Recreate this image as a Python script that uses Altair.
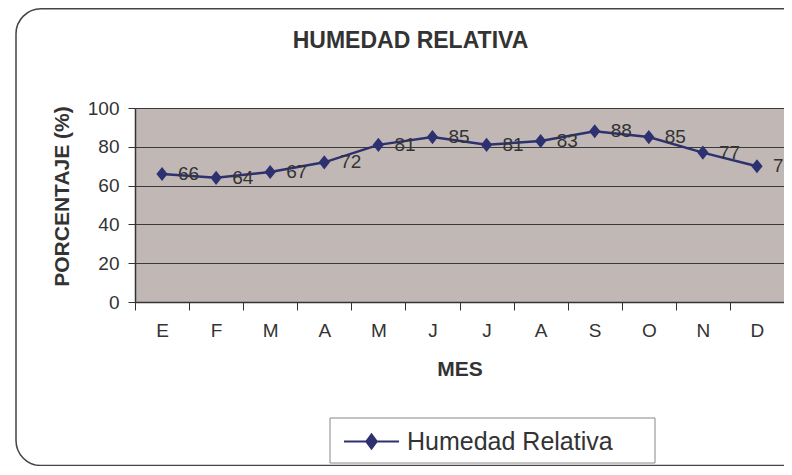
import altair as alt
import pandas as pd

months = ["E", "F", "M", "A", "M", "J", "J", "A", "S", "O", "N", "D"]
values = [66, 64, 67, 72, 81, 85, 81, 83, 88, 85, 77, 70]
series_name = "Humedad Relativa"
y_ticks = [0, 20, 40, 60, 80, 100]

order = [f"{i:02d}" for i in range(len(months))]
df = pd.DataFrame({"k": order, "mes": months, "valor": values, "serie": [series_name] * len(months)})
label_expr = "{" + ",".join(f"'{k}':'{m}'" for k, m in zip(order, months)) + "}[datum.value]"

NAVY = "#2D3170"
TXT = "#333333"
FONT = "Liberation Sans"
W, H = 649, 194
DIAMOND = "M0,-1L0.8,0L0,1L-0.8,0Z"
LEG_SYM = "M-1,0H1M0,-0.26L0.19,0L0,0.26L-0.19,0Z"

x = alt.X("k:N", sort=order, title="MES",
          scale=alt.Scale(paddingInner=0, paddingOuter=0),
          axis=alt.Axis(labelExpr=label_expr, labelAngle=0, tickBand="extent",
                        labelFontSize=19, labelColor=TXT, labelPadding=11,
                        tickSize=8, tickColor=TXT, domainColor=TXT, domainWidth=1.5,
                        titleFontSize=21, titleFontWeight="bold", titleColor=TXT,
                        titlePadding=18, grid=False))
y = alt.Y("valor:Q", title="PORCENTAJE  (%)",
          scale=alt.Scale(domain=[0, 100], nice=False),
          axis=alt.Axis(values=y_ticks, labelFontSize=19, labelColor=TXT, labelPadding=9,
                        tickSize=7, tickColor=TXT, domainColor=TXT, domainWidth=1.5,
                        grid=True, gridColor="#3a3a3a", gridWidth=1,
                        titleFontSize=21, titleFontWeight="bold", titleColor=TXT,
                        titlePadding=15, titleY=88))

frame = alt.Chart(alt.Data(values=[{}])).mark_rect(
    fill=None, filled=False, stroke="#444444", strokeWidth=1.5, cornerRadius=25
).encode(x=alt.value(-119), x2=alt.value(720), y=alt.value(-99.2), y2=alt.value(357.5))

legbox = alt.Chart(alt.Data(values=[{}])).mark_rect(
    fill="white", stroke="#888888", strokeWidth=1
).encode(x=alt.value(195), x2=alt.value(520), y=alt.value(310), y2=alt.value(355))

base = alt.Chart(df)
line = base.mark_line(color=NAVY, strokeWidth=2.5).encode(x=x, y=y)
pts = base.mark_point(filled=True, opacity=1, size=200, shape=DIAMOND).encode(
    x=x, y=y,
    color=alt.Color("serie:N", scale=alt.Scale(domain=[series_name], range=[NAVY]),
                    legend=alt.Legend(title=None, orient="none", legendX=208, legendY=305,
                                      symbolType=LEG_SYM, symbolSize=3025,
                                      symbolStrokeColor=NAVY, symbolStrokeWidth=2,
                                      symbolFillColor=NAVY, labelLimit=500,
                                      labelFontSize=25, labelColor=TXT, labelOffset=7,
                                      labelFont=FONT, padding=0)))
labels = base.mark_text(align="left", baseline="middle", dx=16, fontSize=19,
                        color=TXT, font=FONT).encode(x=x, y=y, text="valor:Q")

chart = alt.layer(frame, legbox, line, pts, labels).properties(
    width=W, height=H,
    title=alt.TitleParams("HUMEDAD RELATIVA", anchor="middle", frame="group", dx=-49,
                          offset=-63, fontSize=23, fontWeight="bold", color=TXT, font=FONT,
                          baseline="alphabetic"),
    autosize=alt.AutoSizeParams(type="none"),
    padding={"left": 127, "top": 100, "right": 0, "bottom": 164},
).configure(font=FONT).configure_view(fill="#C1B8B6", stroke="#888888", strokeWidth=1)

chart.save("out.html", embed_options={"renderer": "svg", "actions": False})
